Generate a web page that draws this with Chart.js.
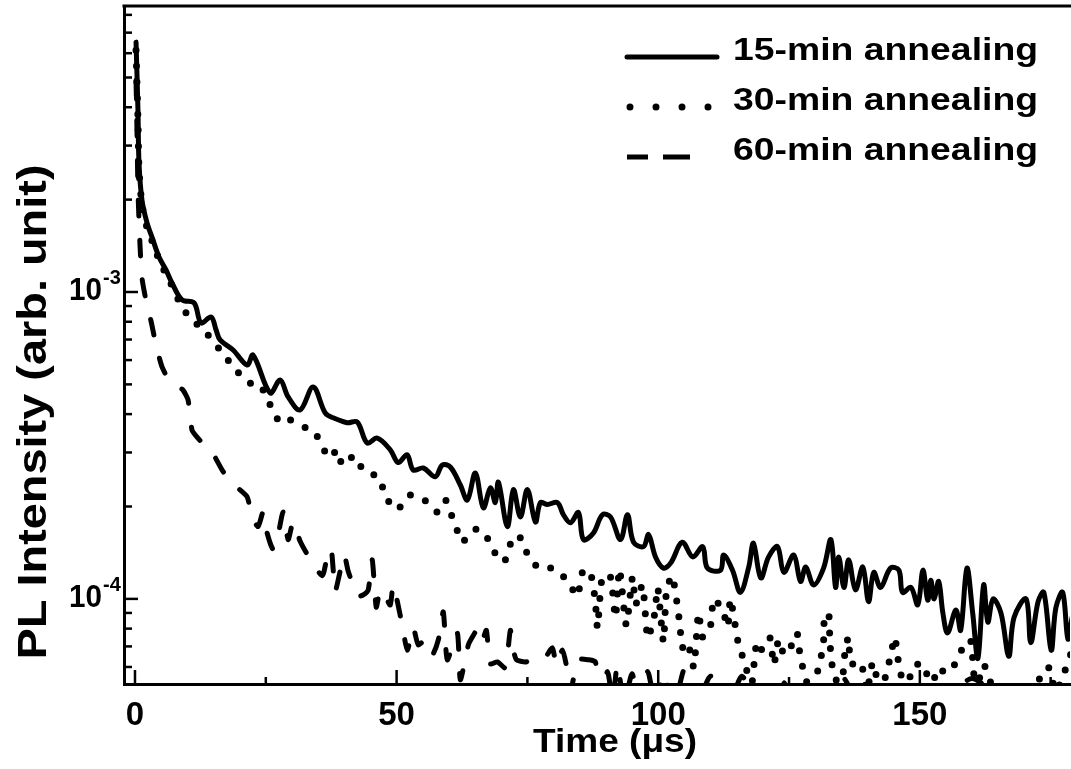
<!DOCTYPE html>
<html>
<head>
<meta charset="utf-8">
<script src="https://cdn.jsdelivr.net/npm/chart.js@4/dist/chart.umd.min.js"></script>
<style>
html, body { margin: 0; padding: 0; background: #fff; }
canvas { display: block; }
</style>
</head>
<body>
<canvas id="pl" width="1071" height="769"></canvas>
<script>
// time (us) and PL intensity (arb. unit)
var t15 = [0.2,0.57,0.77,1.34,2.3,3.25,4.59,5.93,7.08,8.99,11.29,12.63,14.54,15.5,16.26,18.75,21.43,22.57,25.83,27.74,29.27,31.57,34.05,36.35,37.88,40.56,42.47,44.38,46.3,48.79,50.3,52.0,53.18,55.1,57.39,58.73,60.26,62.18,63.52,65.05,66.58,67.92,68.87,69.45,71.17,72.32,73.66,75.0,76.53,77.48,78.82,80.73,81.88,83.22,84.75,85.71,87.62,89.34,90.87,92.79,94.13,95.27,97.19,98.15,99.48,101.0,102.4,104.6,106.6,108.5,109.4,111.9,112.5,114.2,115.7,117.3,118.2,119.6,121.1,122.8,124.0,125.9,127.2,128.2,129.7,131.6,133.0,133.9,134.5,135.5,136.4,137.7,139.1,140.2,141.2,142.5,144.4,146.0,146.7,148.3,149.6,150.6,151.5,152.1,152.7,153.6,154.4,155.3,156.9,157.8,159.0,160.1,161.1,162.2,163.0,164.0,165.5,167.0,168.0,170.3,171.2,172.6,173.7,175.1,176.0,177.3,178.3,179.1];
var v15 = [6.52e-3,3.9e-3,2.63e-3,1.99e-3,1.68e-3,1.51e-3,1.30e-3,1.18e-3,1.07e-3,9.42e-4,9.21e-4,7.93e-4,8.29e-4,7.52e-4,6.98e-4,6.47e-4,5.78e-4,6.23e-4,4.69e-4,5.17e-4,4.55e-4,4.13e-4,4.90e-4,4.04e-4,3.89e-4,3.75e-4,3.77e-4,3.22e-4,3.34e-4,3.06e-4,2.78e-4,2.95e-4,2.63e-4,2.67e-4,2.50e-4,2.73e-4,2.69e-4,2.35e-4,2.10e-4,2.57e-4,1.98e-4,2.30e-4,2.06e-4,2.40e-4,1.72e-4,2.27e-4,1.85e-4,2.27e-4,1.78e-4,2.06e-4,2.03e-4,2.06e-4,1.88e-4,1.77e-4,1.91e-4,1.56e-4,1.64e-4,1.88e-4,1.85e-4,1.56e-4,1.88e-4,1.53e-4,1.48e-4,1.62e-4,1.37e-4,1.26e-4,1.31e-4,1.53e-4,1.37e-4,1.48e-4,1.26e-4,1.24e-4,1.39e-4,1.24e-4,1.05e-4,1.27e-4,1.52e-4,1.17e-4,1.37e-4,1.48e-4,1.22e-4,1.39e-4,1.14e-4,1.27e-4,1.11e-4,1.26e-4,1.56e-4,1.09e-4,1.37e-4,1.09e-4,1.34e-4,1.07e-4,1.27e-4,0.98e-4,1.22e-4,1.09e-4,1.26e-4,1.24e-4,1.05e-4,1.09e-4,0.956e-4,1.24e-4,0.99e-4,1.15e-4,1.0e-4,1.14e-4,0.90e-4,0.775e-4,0.92e-4,0.79e-4,1.26e-4,0.90e-4,0.64e-4,1.11e-4,0.84e-4,1.0e-4,0.90e-4,0.65e-4,0.87e-4,1.0e-4,0.72e-4,0.98e-4,1.05e-4,0.68e-4,0.935e-4,1.05e-4,0.74e-4,0.87e-4];

var t30 = [0.2,0.57,0.77,1.34,2.3,3.44,4.78,6.7,8.6,10.5,12.05,13.97,16.26,18.56,20.66,22.38,23.91,25.83,27.74,29.46,31.18,32.7,34.44,36.35,37.31,38.65,39.6,40.75,42.09,43.43,44.58,46.49,48.21,50.12,51.27,52.61,54.52,56.05,57.78,59.31,60.26,61.22,62.56,64.09,65.62,67.15,68.3,69.45,70.6,72.32,73.66,74.6,75.57,77.29,79.4,81.3,82.5,83.4,84.56,85.71,87.24,88.0,88.4,89.34,90.87,91.83,92.6,93.9,95.1,95.7,97.0,98.0,99.3,99.9,101.0,101.6,102.7,104.1,104.6,105.6,106.8,107.7,108.5,110.0,110.6,112.3,113.3,113.8,115.4,116.7,117.7,118.8,119.6,121.3,122.1,123.0,124.0,124.9,126.5,127.2,129.1,130.9,131.6,131.8,132.6,132.8,133.3,134.9,135.8,136.4,136.8,138.7,139.9,141.0,142.5,144.4,145.2,146.0,147.3,148.8,150.8,152.1,153.4,155.0,156.3,157.3,158.4,159.7,160.7,162.2,164.5,167.4,171.2,174.5,176.0,178.3,179.1];
var v30 = [6.14e-3,3.63e-3,2.5e-3,1.92e-3,1.62e-3,1.44e-3,1.25e-3,1.08e-3,9.2e-4,8.2e-4,7.8e-4,7.24e-4,6.47e-4,5.78e-4,5.25e-4,5.01e-4,4.98e-4,4.29e-4,3.75e-4,3.83e-4,3.75e-4,3.6e-4,3.47e-4,3.01e-4,2.88e-4,3.06e-4,2.73e-4,2.84e-4,2.92e-4,2.65e-4,2.57e-4,2.5e-4,2.11e-4,1.95e-4,2.06e-4,2.18e-4,2.13e-4,2.06e-4,1.92e-4,2.1e-4,1.92e-4,1.74e-4,1.53e-4,1.65e-4,1.69e-4,1.6e-4,1.46e-4,1.36e-4,1.32e-4,1.6e-4,1.58e-4,1.45e-4,1.34e-4,1.26e-4,1.26e-4,1.22e-4,1.14e-4,1.09e-4,1.02e-4,1.25e-4,1.18e-4,0.97e-4,0.805e-4,1.19e-4,1.18e-4,0.87e-4,1.25e-4,0.82e-4,1.18e-4,0.96e-4,1.11e-4,0.746e-4,0.89e-4,1.09e-4,0.725e-4,1.07e-4,1.19e-4,0.835e-4,0.693e-4,0.725e-4,0.60e-4,0.90e-4,0.75e-4,0.82e-4,1.0e-4,0.92e-4,0.81e-4,1.0e-4,0.703e-4,0.61e-4,0.50e-4,0.72e-4,0.68e-4,0.75e-4,0.61e-4,0.735e-4,0.66e-4,0.67e-4,0.775e-4,0.64e-4,0.50e-4,0.62e-4,0.73e-4,0.89e-4,0.89e-4,0.73e-4,0.60e-4,0.50e-4,0.698e-4,0.75e-4,0.614e-4,0.623e-4,0.50e-4,0.62e-4,0.50e-4,0.65e-4,0.75e-4,0.61e-4,0.50e-4,0.605e-4,0.61e-4,0.50e-4,0.595e-4,0.574e-4,0.595e-4,0.65e-4,0.698e-4,0.735e-4,0.50e-4,0.61e-4,0.49e-4,0.49e-4,0.50e-4,0.60e-4,0.50e-4,0.62e-4,0.68e-4];

var t60 = [0.2,0.38,0.57,0.96,1.34,2.1,3.06,4.02,5.17,6.7,8.04,9.18,10.14,10.9,12.05,13.39,14.73,16.84,19.13,21.43,22.38,23.53,24.49,25.25,26.4,27.36,28.31,29.27,30.23,31.57,33.1,35.78,36.73,37.5,38.26,39.02,39.98,40.75,41.7,42.66,43.62,44.58,45.34,46.11,46.87,47.83,48.79,49.36,51.08,52.04,53.18,54.14,55.48,56.82,57.97,58.92,59.69,61.6,62.18,63.71,64.66,65.62,66.39,67.15,67.9,69.26,70.79,71.74,72.32,72.9,74.6,76.14,78.06,79.78,80.5,81.7,82.5,83.2,84.75,86.7,88.0,89.0,90.3,91.3,92.2,93.5,95.0,96.5,98.0,99.5,101.0,103.0,105.0,107.0,110.0,113.0,116.0,120.0,125.0,130.0,135.0,140.0,150.0,160.0,170.0,179.0];
var v60 = [4.9e-3,3.37e-3,2.15e-3,1.42e-3,1.11e-3,9.4e-4,8.05e-4,6.72e-4,5.7e-4,5.1e-4,4.94e-4,4.79e-4,4.45e-4,3.55e-4,3.34e-4,3.15e-4,3.01e-4,2.6e-4,2.34e-4,2.15e-4,1.84e-4,1.72e-4,1.92e-4,1.64e-4,1.45e-4,1.62e-4,1.92e-4,1.56e-4,1.78e-4,1.54e-4,1.38e-4,1.19e-4,1.37e-4,1.46e-4,1.06e-4,1.19e-4,1.39e-4,1.23e-4,1.11e-4,1.02e-4,1.03e-4,1.07e-4,1.34e-4,0.94e-4,1.07e-4,1.02e-4,0.955e-4,1.11e-4,0.82e-4,0.68e-4,0.805e-4,0.708e-4,0.735e-4,0.657e-4,0.735e-4,0.907e-4,0.633e-4,0.775e-4,0.545e-4,0.708e-4,0.76e-4,0.805e-4,0.735e-4,0.79e-4,0.614e-4,0.623e-4,0.596e-4,0.79e-4,0.682e-4,0.633e-4,0.623e-4,0.633e-4,0.633e-4,0.693e-4,0.61e-4,0.682e-4,0.60e-4,0.50e-4,0.633e-4,0.633e-4,0.623e-4,0.47e-4,0.58e-4,0.47e-4,0.61e-4,0.46e-4,0.57e-4,0.45e-4,0.58e-4,0.45e-4,0.57e-4,0.45e-4,0.59e-4,0.44e-4,0.56e-4,0.43e-4,0.56e-4,0.42e-4,0.55e-4,0.42e-4,0.56e-4,0.41e-4,0.40e-4,0.55e-4,0.40e-4,0.40e-4];

var seriesNames = ['15-min annealing', '30-min annealing', '60-min annealing'];
var xTicks = [0, 25, 50, 75, 100, 125, 150, 175];
var yTicks = [6e-5, 7e-5, 8e-5, 9e-5, 1e-4, 2e-4, 3e-4, 4e-4, 5e-4, 6e-4, 7e-4, 8e-4, 9e-4,
              1e-3, 2e-3, 3e-3, 4e-3, 5e-3, 6e-3, 7e-3, 8e-3];
var yLabelTicks = [1e-3, 1e-4];
var yLabelExp = ['-3', '-4'];

var FONT = '"Liberation Sans", Arial, Helvetica, sans-serif';

function pairs(t, v) {
	return t.map(function (x, i) { return {x: x, y: v[i]}; });
}

// text squeezed/stretched to a given width, like the original figure
function fitText(ctx, str, x, y, size, width, align) {
	ctx.font = 'bold ' + size + 'px ' + FONT;
	var w = ctx.measureText(str).width;
	var sx = width ? width / w : 1;
	ctx.save();
	ctx.translate(x, y);
	ctx.scale(sx, 1);
	ctx.textAlign = align || 'left';
	ctx.textBaseline = 'alphabetic';
	ctx.fillStyle = '#000';
	ctx.fillText(str, 0, 0);
	ctx.restore();
}

var decor = {
	id: 'decor',
	afterDraw: function (chart) {
		var ctx = chart.ctx;
		var area = chart.chartArea;
		var xs = chart.scales.x, ys = chart.scales.y;
		ctx.save();
		ctx.strokeStyle = '#000';
		ctx.lineCap = 'butt';

		// top frame line
		ctx.lineWidth = 3;
		ctx.beginPath();
		ctx.moveTo(area.left - 1.5, area.top);
		ctx.lineTo(chart.width, area.top);
		ctx.stroke();

		// inward tick marks
		ctx.lineWidth = 2.5;
		xTicks.forEach(function (v) {
			var px = xs.getPixelForValue(v);
			var len = v % 50 === 0 ? 14 : 7;
			ctx.beginPath();
			ctx.moveTo(px, area.bottom);
			ctx.lineTo(px, area.bottom - len);
			ctx.stroke();
		});
		yTicks.forEach(function (v) {
			var py = ys.getPixelForValue(v);
			var len = yLabelTicks.indexOf(v) >= 0 ? 14 : 8;
			ctx.beginPath();
			ctx.moveTo(area.left, py);
			ctx.lineTo(area.left + len, py);
			ctx.stroke();
		});

		// y tick labels 10^-3, 10^-4
		yLabelTicks.forEach(function (v, i) {
			var py = ys.getPixelForValue(v);
			fitText(ctx, '10', 102, py + 8, 32, 33, 'right');
			fitText(ctx, yLabelExp[i], 103, py - 8, 20, 0, 'left');
		});

		// axis titles
		fitText(ctx, 'Time (\u03bcs)', 533, 752, 33, 164, 'left');
		ctx.save();
		ctx.translate(46, 412);
		ctx.rotate(-Math.PI / 2);
		fitText(ctx, 'PL Intensity (arb. unit)', 0, 0, 40, 495, 'center');
		ctx.restore();

		// legend
		var rows = [57, 107, 157];
		chart.data.datasets.forEach(function (ds, i) {
			var y = rows[i];
			ctx.lineWidth = ds.borderWidth;
			ctx.lineCap = ds.borderCapStyle || 'butt';
			if (i === 1) {
				ctx.setLineDash([0, 26]);
				ctx.beginPath();
				ctx.moveTo(630, y);
				ctx.lineTo(712, y);
				ctx.stroke();
			} else if (i === 2) {
				ctx.setLineDash([]);
				ctx.lineCap = 'butt';
				ctx.beginPath();
				ctx.moveTo(627, y); ctx.lineTo(648, y);
				ctx.moveTo(663, y); ctx.lineTo(690, y);
				ctx.stroke();
			} else {
				ctx.setLineDash([]);
				ctx.beginPath();
				ctx.moveTo(627, y);
				ctx.lineTo(717, y);
				ctx.stroke();
			}
			fitText(ctx, ds.label, 733, y + 3, 31, 305, 'left');
		});
		ctx.restore();
	}
};

var chart = new Chart(document.getElementById('pl'), {
	type: 'line',
	data: {
		datasets: [
			{
				label: seriesNames[0],
				data: pairs(t15, v15),
				borderColor: '#000',
				borderWidth: 5,
				borderCapStyle: 'round',
				borderJoinStyle: 'round',
				pointRadius: 0,
				tension: 0.35,
				clip: 0
			},
			{
				label: seriesNames[1],
				data: pairs(t30, v30),
				borderColor: '#000',
				borderWidth: 7,
				borderDash: [0, 16],
				borderCapStyle: 'round',
				pointRadius: 0,
				tension: 0.2,
				clip: 0
			},
			{
				label: seriesNames[2],
				data: pairs(t60, v60),
				borderColor: '#000',
				borderWidth: 5,
				borderDash: [16, 24],
				borderCapStyle: 'round',
				pointRadius: 0,
				tension: 0.2,
				clip: 0
			}
		]
	},
	options: {
		responsive: false,
		animation: false,
		devicePixelRatio: 1,
		layout: { padding: { top: 6, right: 1, left: 0, bottom: 0 } },
		plugins: {
			legend: { display: false },
			tooltip: { enabled: false }
		},
		scales: {
			x: {
				type: 'linear',
				min: -2.1,
				max: 178.7,
				afterBuildTicks: function (s) {
					s.ticks = xTicks.map(function (v) { return {value: v}; });
				},
				afterFit: function (s) { s.height = 85; },
				ticks: {
					color: '#000',
					font: { family: FONT, size: 33, weight: 'bold' },
					padding: 12,
					maxRotation: 0,
					autoSkip: false,
					callback: function (v) { return v % 50 === 0 ? String(v) : ''; }
				},
				grid: { display: false, drawTicks: false },
				border: { display: true, color: '#000', width: 3 }
			},
			y: {
				type: 'logarithmic',
				min: 5.28e-5,
				max: 8.55e-3,
				afterBuildTicks: function (s) {
					s.ticks = yTicks.map(function (v) { return {value: v}; });
				},
				afterFit: function (s) { s.width = 124; },
				ticks: { display: false },
				grid: { display: false, drawTicks: false },
				border: { display: true, color: '#000', width: 3 }
			}
		}
	},
	plugins: [decor]
});
</script>
</body>
</html>
